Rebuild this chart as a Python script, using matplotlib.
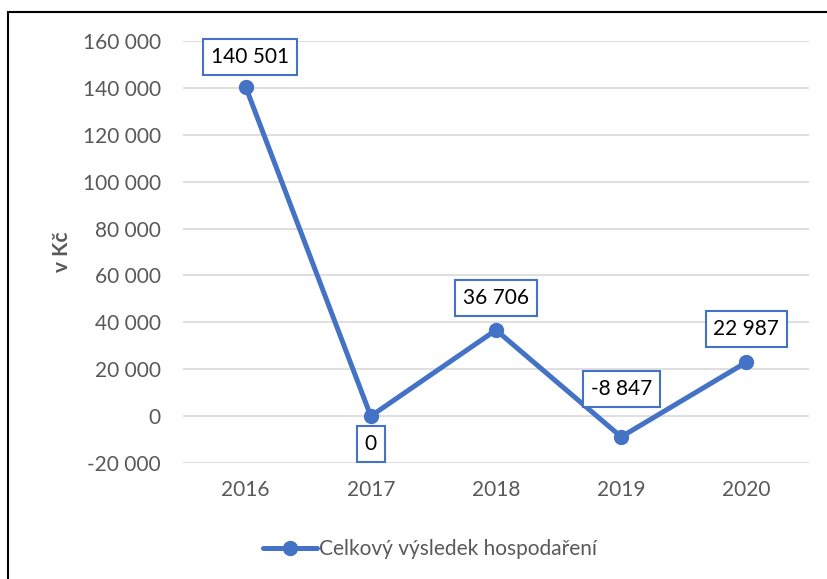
import matplotlib.pyplot as plt
from matplotlib.patches import Rectangle

# ==================== DATA ====================
years = ['2016', '2017', '2018', '2019', '2020']
values = [140501, 0, 36706, -8847, 22987]
labels = ['140 501', '0', '36 706', '-8 847', '22 987']
series_name = 'Celkový výsledek hospodaření'

# label offsets in pixels (above positive, below negative)
offsets = [30, -28, 32, 48, 33]

BLUE = '#4472C4'
GRAY = '#595959'

plt.rcParams['font.family'] = ['Lato', 'DejaVu Sans']


def fmt(v, pos=None):
    s = f'{abs(int(v)):,}'.replace(',', ' ')
    return '-' + s if v < 0 else s


fig = plt.figure(figsize=(8.27, 5.79), dpi=100)
ax = fig.add_axes([183 / 827, 1 - 463 / 579, 626 / 827, 422 / 579])

x = list(range(len(years)))
ax.plot(x, values, color=BLUE, linewidth=3.6, marker='o', markersize=10,
        solid_capstyle='round', label=series_name, zorder=3)

for xi, v, lab, off in zip(x, values, labels, offsets):
    ax.annotate(lab, (xi, v), xytext=(3 if xi == 0 else 0, off * 0.72),
                textcoords='offset points', ha='center', va='center',
                fontsize=15, color='black', zorder=4,
                bbox=dict(boxstyle='square,pad=0.38', fc='white', ec=BLUE, lw=1.5))

ax.set_xlim(-0.5, len(years) - 0.5)
ax.set_ylim(-20000, 160000)
ax.set_yticks(range(-20000, 160001, 20000))
ax.yaxis.set_major_formatter(plt.FuncFormatter(fmt))
ax.set_xticks(x)
ax.set_xticklabels(years)
ax.tick_params(axis='both', length=0, labelsize=15, labelcolor=GRAY)
ax.tick_params(axis='y', pad=16)
ax.tick_params(axis='x', pad=12)
ax.grid(axis='y', color='#D9D9D9', linewidth=1.2)
ax.set_axisbelow(True)
for s in ax.spines.values():
    s.set_visible(False)

fig.text(62 / 827, 1 - 252 / 579, 'v Kč', rotation=90, ha='center', va='center',
         fontsize=15, fontweight='bold', color=GRAY)

leg = fig.legend(loc='center', bbox_to_anchor=(430 / 827, 1 - 549 / 579),
                 frameon=False, fontsize=15, handlelength=2.6, handletextpad=0.1)
for t in leg.get_texts():
    t.set_color(GRAY)

# outer frame (top and left visible)
fig.patches.append(Rectangle((8 / 827, -0.1), 1.2, 1 - 12 / 579 + 0.1,
                             transform=fig.transFigure, fill=False,
                             edgecolor='black', linewidth=1.5))

fig.savefig('out.png', dpi=100)
